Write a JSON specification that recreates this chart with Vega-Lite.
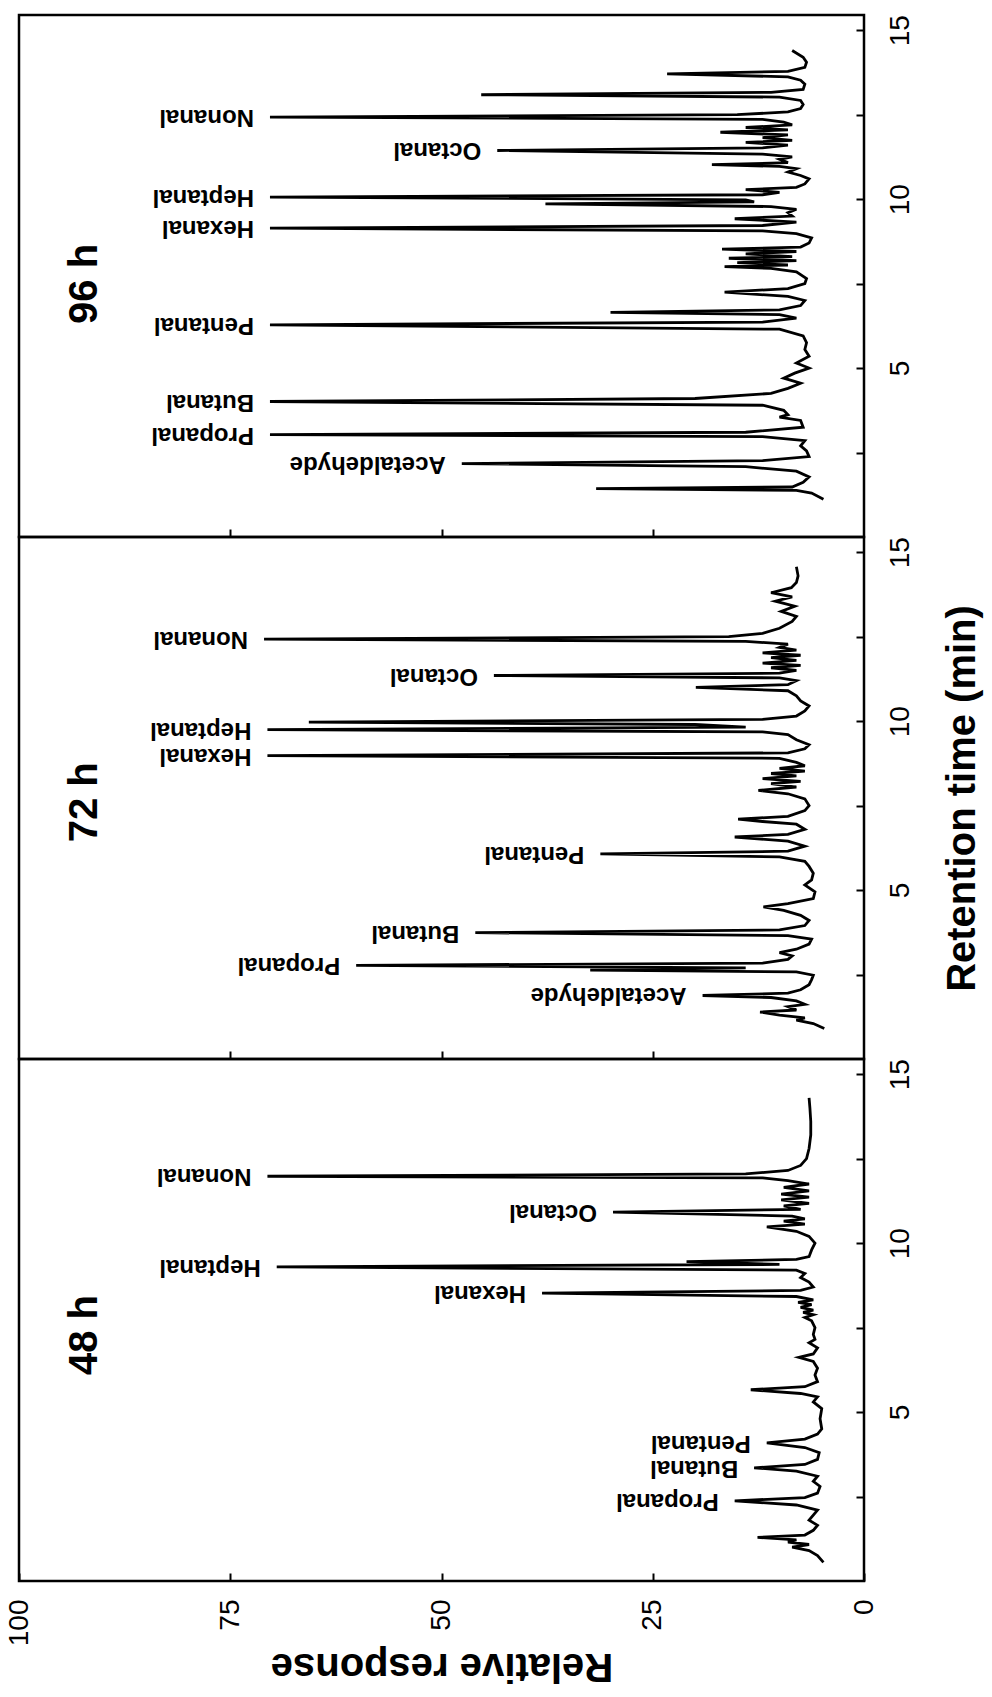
{
  "$schema": "https://vega.github.io/schema/vega-lite/v6.json",
  "background": "white",
  "padding": {"left": 3, "top": 13, "right": 0, "bottom": 30},
  "config": {
    "view": {"stroke": "black", "strokeWidth": 2.5},
    "font": "Liberation Sans",
    "axis": {"labelColor": "black", "titleColor": "black", "tickColor": "black", "labelFont": "Liberation Sans", "titleFont": "Liberation Sans"}
  },
  "datasets": {
    "t96": [
      {"t":1.12,"r":4.8},{"t":1.30,"r":6.2},{"t":1.38,"r":8},{"t":1.43,"r":31.7},{"t":1.48,"r":8.5},{"t":1.62,"r":7.2},{"t":1.78,"r":6.5},{"t":1.95,"r":8},{"t":2.08,"r":14},{"t":2.17,"r":47.6},{"t":2.26,"r":12},{"t":2.38,"r":6.5},{"t":2.55,"r":6.8},{"t":2.7,"r":7.5},{"t":2.85,"r":7},{"t":2.97,"r":12},{"t":3.03,"r":70.3},{"t":3.10,"r":14},{"t":3.25,"r":7.2},{"t":3.45,"r":7.5},{"t":3.55,"r":10},{"t":3.62,"r":9},{"t":3.75,"r":9.5},{"t":3.90,"r":12},{"t":4.01,"r":70.3},{"t":4.10,"r":20},{"t":4.25,"r":11},{"t":4.40,"r":9},{"t":4.55,"r":7.5},{"t":4.70,"r":9.5},{"t":4.85,"r":8.2},{"t":5.00,"r":6.5},{"t":5.15,"r":8},{"t":5.35,"r":6.5},{"t":5.55,"r":7},{"t":5.75,"r":6.8},{"t":5.95,"r":7.2},{"t":6.15,"r":10},{"t":6.28,"r":70.3},{"t":6.36,"r":12},{"t":6.48,"r":8},{"t":6.58,"r":10},{"t":6.65,"r":30},{"t":6.72,"r":10},{"t":6.85,"r":7.5},{"t":7.0,"r":7},{"t":7.12,"r":9},{"t":7.25,"r":16.5},{"t":7.35,"r":9},{"t":7.5,"r":7},{"t":7.65,"r":6.8},{"t":7.85,"r":8},{"t":7.95,"r":11},{"t":8.0,"r":16.5},{"t":8.05,"r":9},{"t":8.12,"r":15},{"t":8.18,"r":8},{"t":8.25,"r":16},{"t":8.3,"r":8.5},{"t":8.38,"r":14},{"t":8.45,"r":8},{"t":8.52,"r":16.8},{"t":8.58,"r":7.5},{"t":8.7,"r":6.5},{"t":8.85,"r":6.2},{"t":8.98,"r":8},{"t":9.06,"r":12},{"t":9.14,"r":70.3},{"t":9.22,"r":12},{"t":9.32,"r":8},{"t":9.42,"r":15.3},{"t":9.5,"r":8.5},{"t":9.6,"r":9},{"t":9.7,"r":8},{"t":9.78,"r":11},{"t":9.86,"r":37.7},{"t":9.92,"r":13},{"t":9.98,"r":14},{"t":10.06,"r":70.3},{"t":10.13,"r":12},{"t":10.2,"r":10},{"t":10.28,"r":14},{"t":10.35,"r":8},{"t":10.45,"r":7},{"t":10.6,"r":6.5},{"t":10.7,"r":7.5},{"t":10.8,"r":9},{"t":10.9,"r":8},{"t":10.97,"r":10},{"t":11.02,"r":18},{"t":11.08,"r":9},{"t":11.18,"r":10},{"t":11.25,"r":8.5},{"t":11.33,"r":12},{"t":11.44,"r":43.4},{"t":11.52,"r":12},{"t":11.6,"r":9},{"t":11.68,"r":14},{"t":11.74,"r":8.5},{"t":11.82,"r":12},{"t":11.9,"r":9},{"t":11.98,"r":17},{"t":12.05,"r":9},{"t":12.12,"r":14},{"t":12.2,"r":8.5},{"t":12.28,"r":9.5},{"t":12.36,"r":12},{"t":12.43,"r":70.3},{"t":12.5,"r":15},{"t":12.58,"r":9},{"t":12.68,"r":7.5},{"t":12.8,"r":7.2},{"t":12.92,"r":7.5},{"t":13.02,"r":10},{"t":13.09,"r":45.3},{"t":13.16,"r":11},{"t":13.25,"r":7.2},{"t":13.4,"r":7},{"t":13.52,"r":7.5},{"t":13.62,"r":9},{"t":13.71,"r":23.3},{"t":13.78,"r":9},{"t":13.9,"r":7},{"t":14.05,"r":6.8},{"t":14.2,"r":7.2},{"t":14.4,"r":8.5}
    ],
    "t72": [
      {"t":0.9,"r":4.7},{"t":1.05,"r":6},{"t":1.15,"r":8},{"t":1.22,"r":7},{"t":1.3,"r":10},{"t":1.39,"r":12.3},{"t":1.45,"r":8},{"t":1.55,"r":9},{"t":1.62,"r":7},{"t":1.72,"r":8},{"t":1.82,"r":11},{"t":1.88,"r":19.1},{"t":1.95,"r":9},{"t":2.05,"r":7.5},{"t":2.2,"r":6.5},{"t":2.35,"r":6.2},{"t":2.48,"r":6},{"t":2.58,"r":8},{"t":2.63,"r":32.4},{"t":2.7,"r":14},{"t":2.77,"r":60.1},{"t":2.84,"r":12},{"t":2.95,"r":9},{"t":3.05,"r":8.5},{"t":3.15,"r":10},{"t":3.25,"r":8},{"t":3.4,"r":6.5},{"t":3.55,"r":6.2},{"t":3.65,"r":9},{"t":3.74,"r":46.0},{"t":3.82,"r":10},{"t":3.95,"r":7},{"t":4.1,"r":6.5},{"t":4.25,"r":7.5},{"t":4.4,"r":9.5},{"t":4.5,"r":11.9},{"t":4.6,"r":9},{"t":4.75,"r":6},{"t":4.95,"r":5.8},{"t":5.15,"r":7},{"t":5.3,"r":6.2},{"t":5.5,"r":6},{"t":5.7,"r":6.5},{"t":5.85,"r":7},{"t":5.98,"r":10},{"t":6.07,"r":31.2},{"t":6.15,"r":9},{"t":6.3,"r":7},{"t":6.45,"r":9},{"t":6.57,"r":15.3},{"t":6.65,"r":9},{"t":6.8,"r":7},{"t":6.95,"r":8},{"t":7.03,"r":12},{"t":7.1,"r":14.9},{"t":7.18,"r":9},{"t":7.35,"r":7},{"t":7.5,"r":6.5},{"t":7.7,"r":7},{"t":7.85,"r":9},{"t":7.95,"r":12.5},{"t":8.05,"r":8},{"t":8.15,"r":11},{"t":8.22,"r":7.5},{"t":8.3,"r":12},{"t":8.38,"r":8},{"t":8.45,"r":11},{"t":8.52,"r":7},{"t":8.6,"r":10},{"t":8.68,"r":7},{"t":8.78,"r":8},{"t":8.9,"r":10},{"t":8.98,"r":70.6},{"t":9.06,"r":9},{"t":9.18,"r":7},{"t":9.3,"r":6.5},{"t":9.45,"r":8},{"t":9.6,"r":9},{"t":9.68,"r":12},{"t":9.75,"r":70.6},{"t":9.82,"r":14},{"t":9.9,"r":20},{"t":9.97,"r":65.7},{"t":10.05,"r":12},{"t":10.15,"r":8},{"t":10.3,"r":7},{"t":10.45,"r":6.5},{"t":10.6,"r":7.5},{"t":10.75,"r":8},{"t":10.9,"r":9},{"t":11.0,"r":19.9},{"t":11.08,"r":9},{"t":11.2,"r":8},{"t":11.28,"r":10},{"t":11.35,"r":43.8},{"t":11.42,"r":10},{"t":11.5,"r":8},{"t":11.58,"r":11},{"t":11.65,"r":7.5},{"t":11.72,"r":12},{"t":11.8,"r":8},{"t":11.88,"r":11},{"t":11.95,"r":7.5},{"t":12.02,"r":12},{"t":12.1,"r":8},{"t":12.18,"r":10},{"t":12.28,"r":9},{"t":12.36,"r":14},{"t":12.43,"r":71},{"t":12.5,"r":16},{"t":12.6,"r":12},{"t":12.75,"r":10},{"t":12.95,"r":8.5},{"t":13.1,"r":8},{"t":13.25,"r":9.8},{"t":13.4,"r":8.2},{"t":13.55,"r":10.5},{"t":13.68,"r":8.5},{"t":13.8,"r":11},{"t":13.95,"r":8.6},{"t":14.1,"r":8},{"t":14.3,"r":7.8},{"t":14.57,"r":8}
    ],
    "t48": [
      {"t":0.55,"r":4.8},{"t":0.75,"r":5.5},{"t":0.9,"r":6.5},{"t":1.0,"r":8.5},{"t":1.08,"r":6.5},{"t":1.15,"r":9},{"t":1.22,"r":8},{"t":1.29,"r":12.6},{"t":1.36,"r":7},{"t":1.5,"r":6},{"t":1.65,"r":5.5},{"t":1.8,"r":6.5},{"t":1.95,"r":6},{"t":2.1,"r":5.5},{"t":2.25,"r":8},{"t":2.37,"r":15.3},{"t":2.47,"r":7},{"t":2.6,"r":5.5},{"t":2.8,"r":5.2},{"t":2.95,"r":6},{"t":3.1,"r":5.5},{"t":3.25,"r":8},{"t":3.35,"r":13.0},{"t":3.45,"r":7},{"t":3.6,"r":5.5},{"t":3.8,"r":5.3},{"t":3.95,"r":7},{"t":4.09,"r":11.5},{"t":4.2,"r":7},{"t":4.35,"r":5.5},{"t":4.5,"r":5},{"t":4.8,"r":5.2},{"t":5.1,"r":5},{"t":5.3,"r":6},{"t":5.45,"r":5.5},{"t":5.55,"r":7.5},{"t":5.66,"r":13.4},{"t":5.75,"r":7},{"t":5.9,"r":5.5},{"t":6.1,"r":5.8},{"t":6.3,"r":5.5},{"t":6.5,"r":6},{"t":6.62,"r":7.7},{"t":6.72,"r":6},{"t":6.9,"r":5.5},{"t":7.05,"r":6.5},{"t":7.15,"r":5.8},{"t":7.3,"r":6},{"t":7.5,"r":5.8},{"t":7.7,"r":6.2},{"t":7.8,"r":7},{"t":7.88,"r":6},{"t":7.95,"r":7.2},{"t":8.02,"r":6},{"t":8.1,"r":7.5},{"t":8.18,"r":6.2},{"t":8.25,"r":7.8},{"t":8.32,"r":6},{"t":8.42,"r":8},{"t":8.52,"r":38.1},{"t":8.6,"r":7.5},{"t":8.7,"r":6},{"t":8.85,"r":6.5},{"t":8.98,"r":7.5},{"t":9.1,"r":7},{"t":9.2,"r":8},{"t":9.3,"r":69.5},{"t":9.37,"r":10},{"t":9.45,"r":21.0},{"t":9.52,"r":8},{"t":9.6,"r":6.5},{"t":9.8,"r":6.2},{"t":10.0,"r":5.8},{"t":10.2,"r":6.5},{"t":10.35,"r":8},{"t":10.48,"r":11.5},{"t":10.56,"r":7},{"t":10.65,"r":9.5},{"t":10.72,"r":7},{"t":10.8,"r":8.5},{"t":10.92,"r":29.7},{"t":11.0,"r":7.5},{"t":11.1,"r":9.5},{"t":11.18,"r":6.5},{"t":11.28,"r":9.8},{"t":11.36,"r":6.5},{"t":11.45,"r":9.8},{"t":11.55,"r":6.5},{"t":11.65,"r":9.5},{"t":11.75,"r":6.5},{"t":11.85,"r":9},{"t":11.93,"r":12},{"t":11.98,"r":70.6},{"t":12.05,"r":14},{"t":12.15,"r":9},{"t":12.3,"r":7.5},{"t":12.5,"r":6.8},{"t":12.8,"r":6.5},{"t":13.2,"r":6.3},{"t":13.6,"r":6.3},{"t":14.0,"r":6.4},{"t":14.3,"r":6.5}
    ],
    "l96": [
      {"name":"Acetaldehyde","t":2.17,"r":47.6},{"name":"Propanal","t":3.03,"r":70.3},{"name":"Butanal","t":4.01,"r":70.3},{"name":"Pentanal","t":6.28,"r":70.3},{"name":"Hexanal","t":9.14,"r":70.3},{"name":"Heptanal","t":10.06,"r":70.3},{"name":"Octanal","t":11.44,"r":43.4},{"name":"Nonanal","t":12.43,"r":70.3}
    ],
    "l72": [
      {"name":"Acetaldehyde","t":1.88,"r":19.1},{"name":"Propanal","t":2.77,"r":60.1},{"name":"Butanal","t":3.74,"r":46.0},{"name":"Pentanal","t":6.07,"r":31.2},{"name":"Hexanal","t":8.98,"r":70.6},{"name":"Heptanal","t":9.75,"r":70.6},{"name":"Octanal","t":11.35,"r":43.8},{"name":"Nonanal","t":12.43,"r":71}
    ],
    "l48": [
      {"name":"Propanal","t":2.37,"r":15.3},{"name":"Butanal","t":3.35,"r":13.0},{"name":"Pentanal","t":4.09,"r":11.5},{"name":"Hexanal","t":8.52,"r":38.1},{"name":"Heptanal","t":9.3,"r":69.5},{"name":"Octanal","t":10.92,"r":29.7},{"name":"Nonanal","t":11.98,"r":70.6}
    ]
  },
  "vconcat": [
    {
      "width": 845, "height": 522,
      "layer": [
        {
          "data": {"name": "t96"},
          "mark": {"type": "line", "color": "black", "strokeWidth": 2.8},
          "encoding": {
            "x": {"field": "r", "type": "quantitative", "scale": {"domain": [0, 100], "reverse": true, "nice": false},
              "axis": {"values": [25, 50, 75], "labels": false, "domain": false, "grid": false, "tickSize": -8, "tickWidth": 2, "title": null}},
            "y": {"field": "t", "type": "quantitative", "scale": {"domain": [0, 15.45], "nice": false},
              "axis": {"orient": "right", "values": [2.5, 5, 7.5, 10, 12.5, 15], "labelExpr": "datum.value % 5 === 0 ? datum.label : ''", "labelAngle": 270, "labelAlign": "center", "labelBaseline": "top", "labelFontSize": 28, "labelPadding": 30, "labelFlush": false, "labelOverlap": false, "tickSize": -8, "tickWidth": 2, "domain": false, "grid": false, "title": null}},
            "order": {"field": "t", "type": "quantitative"}
          }
        },
        {
          "data": {"name": "l96"},
          "mark": {"type": "text", "angle": 180, "align": "left", "baseline": "middle", "dx": 16, "fontSize": 24, "fontWeight": "bold", "color": "black"},
          "encoding": {"x": {"field": "r", "type": "quantitative"}, "y": {"field": "t", "type": "quantitative"}, "text": {"field": "name", "type": "nominal"}}
        },
        {
          "data": {"values": [{"tag": "96 h", "t": 7.49, "r": 92.2}]},
          "mark": {"type": "text", "angle": 270, "align": "center", "baseline": "middle", "fontSize": 40, "fontWeight": "bold", "color": "black"},
          "encoding": {"x": {"field": "r", "type": "quantitative"}, "y": {"field": "t", "type": "quantitative"}, "text": {"field": "tag", "type": "nominal"}}
        }
      ]
    },
    {
      "width": 845, "height": 522,
      "layer": [
        {
          "data": {"name": "t72"},
          "mark": {"type": "line", "color": "black", "strokeWidth": 2.8},
          "encoding": {
            "x": {"field": "r", "type": "quantitative", "scale": {"domain": [0, 100], "reverse": true, "nice": false},
              "axis": {"values": [25, 50, 75], "labels": false, "domain": false, "grid": false, "tickSize": -8, "tickWidth": 2, "title": null}},
            "y": {"field": "t", "type": "quantitative", "scale": {"domain": [0, 15.45], "nice": false},
              "axis": {"orient": "right", "values": [2.5, 5, 7.5, 10, 12.5, 15], "labelExpr": "datum.value % 5 === 0 ? datum.label : ''", "labelAngle": 270, "labelAlign": "center", "labelBaseline": "top", "labelFontSize": 28, "labelPadding": 30, "labelFlush": false, "labelOverlap": false, "tickSize": -8, "tickWidth": 2, "domain": false, "grid": false,
                "title": "Retention time (min)", "titleAngle": 270, "titleBaseline": "top", "titleAlign": "center", "titleFontSize": 40, "titleFontWeight": "bold", "titlePadding": 28}},
            "order": {"field": "t", "type": "quantitative"}
          }
        },
        {
          "data": {"name": "l72"},
          "mark": {"type": "text", "angle": 180, "align": "left", "baseline": "middle", "dx": 16, "fontSize": 24, "fontWeight": "bold", "color": "black"},
          "encoding": {"x": {"field": "r", "type": "quantitative"}, "y": {"field": "t", "type": "quantitative"}, "text": {"field": "name", "type": "nominal"}}
        },
        {
          "data": {"values": [{"tag": "72 h", "t": 7.6, "r": 92.2}]},
          "mark": {"type": "text", "angle": 270, "align": "center", "baseline": "middle", "fontSize": 40, "fontWeight": "bold", "color": "black"},
          "encoding": {"x": {"field": "r", "type": "quantitative"}, "y": {"field": "t", "type": "quantitative"}, "text": {"field": "tag", "type": "nominal"}}
        }
      ]
    },
    {
      "width": 845, "height": 522,
      "layer": [
        {
          "data": {"name": "t48"},
          "mark": {"type": "line", "color": "black", "strokeWidth": 2.8},
          "encoding": {
            "x": {"field": "r", "type": "quantitative", "scale": {"domain": [0, 100], "reverse": true, "nice": false},
              "axis": {"values": [0, 25, 50, 75, 100], "labelAngle": 270, "labelAlign": "right", "labelBaseline": "middle", "labelFontSize": 28, "labelPadding": 26, "labelFlush": false, "labelOverlap": false, "domain": false, "grid": false, "tickSize": -8, "tickWidth": 2,
                "title": "Relative response", "titleAngle": 180, "titleBaseline": "bottom", "titleFontSize": 40, "titleFontWeight": "bold", "titlePadding": 0}},
            "y": {"field": "t", "type": "quantitative", "scale": {"domain": [0, 15.45], "nice": false},
              "axis": {"orient": "right", "values": [2.5, 5, 7.5, 10, 12.5, 15], "labelExpr": "datum.value % 5 === 0 ? datum.label : ''", "labelAngle": 270, "labelAlign": "center", "labelBaseline": "top", "labelFontSize": 28, "labelPadding": 30, "labelFlush": false, "labelOverlap": false, "tickSize": -8, "tickWidth": 2, "domain": false, "grid": false, "title": null}},
            "order": {"field": "t", "type": "quantitative"}
          }
        },
        {
          "data": {"name": "l48"},
          "mark": {"type": "text", "angle": 180, "align": "left", "baseline": "middle", "dx": 16, "fontSize": 24, "fontWeight": "bold", "color": "black"},
          "encoding": {"x": {"field": "r", "type": "quantitative"}, "y": {"field": "t", "type": "quantitative"}, "text": {"field": "name", "type": "nominal"}}
        },
        {
          "data": {"values": [{"tag": "48 h", "t": 7.28, "r": 92.2}]},
          "mark": {"type": "text", "angle": 270, "align": "center", "baseline": "middle", "fontSize": 40, "fontWeight": "bold", "color": "black"},
          "encoding": {"x": {"field": "r", "type": "quantitative"}, "y": {"field": "t", "type": "quantitative"}, "text": {"field": "tag", "type": "nominal"}}
        }
      ]
    }
  ],
  "spacing": 0,
  "bounds": "flush"
}
